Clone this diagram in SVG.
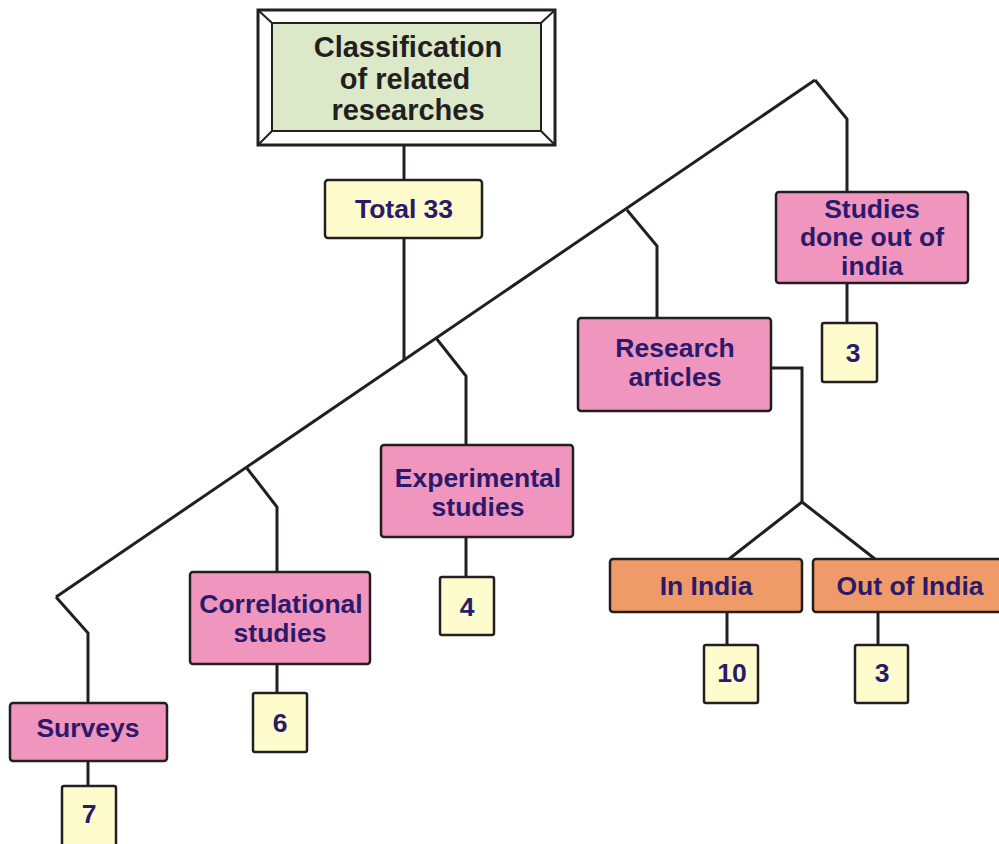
<svg xmlns="http://www.w3.org/2000/svg" width="999" height="844" viewBox="0 0 999 844">
  <style>
    .box { stroke: #231f20; stroke-width: 2.5; }
    .pink { fill: #f095bd; }
    .yellow { fill: #fefccc; }
    .orange { fill: #ef9a69; }
    .label { font-family: "Liberation Sans", Arial, sans-serif; font-weight: bold; font-size: 26.5px; fill: #2b1a6b; text-anchor: middle; }
    .title { font-family: "Liberation Sans", Arial, sans-serif; font-weight: bold; font-size: 29px; fill: #231f20; text-anchor: middle; }
    .wire { fill: none; stroke: #231f20; stroke-width: 3; stroke-linejoin: miter; }
  </style>

  <!-- connectors -->
  <g id="connectors" class="wire">
    <path d="M404 145 V180"/>
    <path d="M404 238 V360"/>
    <path d="M56 597 L815 80"/>
    <path d="M56 597 L88 633 V703"/>
    <path d="M246 467 L277 507 V572"/>
    <path d="M436 338 L466 376 V445"/>
    <path d="M627 210 L657 246 V318"/>
    <path d="M815 80 L847 119 V192"/>
    <path d="M88 761 V786"/>
    <path d="M277 664 V693"/>
    <path d="M466 537 V577"/>
    <path d="M847 283 V323"/>
    <path d="M771 368 H802 V502"/>
    <path d="M729 559 L802 502 L875 559"/>
    <path d="M727 612 V645"/>
    <path d="M878 612 V645"/>
  </g>

  <!-- title -->
  <g id="title">
    <rect x="258" y="10" width="297" height="135" fill="#ffffff" stroke="#231f20" stroke-width="3"/>
    <rect x="272" y="23" width="269" height="108" fill="#dce9c8" stroke="#231f20" stroke-width="2"/>
    <path d="M258 10 L272 23 M555 10 L541 23 M258 145 L272 131 M555 145 L541 131" stroke="#231f20" stroke-width="2" fill="none"/>
    <text class="title" x="408" y="57">Classification</text>
    <text class="title" x="405" y="89">of related</text>
    <text class="title" x="408" y="120">researches</text>
  </g>

  <g id="total">
    <rect class="box yellow" x="325" y="180" width="157" height="58" rx="3"/>
    <text class="label" x="404" y="218">Total 33</text>
  </g>

  <g id="surveys">
    <rect class="box pink" x="10" y="703" width="157" height="58" rx="3"/>
    <text class="label" x="88" y="737">Surveys</text>
  </g>
  <g id="surveys-count">
    <rect class="box yellow" x="62" y="786" width="54" height="60" rx="2"/>
    <text class="label" x="89" y="823">7</text>
  </g>

  <g id="correlational">
    <rect class="box pink" x="190" y="572" width="180" height="92" rx="3"/>
    <text class="label" x="281" y="613">Correlational</text>
    <text class="label" x="280" y="642">studies</text>
  </g>
  <g id="correlational-count">
    <rect class="box yellow" x="253" y="693" width="54" height="59" rx="2"/>
    <text class="label" x="280" y="732">6</text>
  </g>

  <g id="experimental">
    <rect class="box pink" x="381" y="445" width="192" height="92" rx="3"/>
    <text class="label" x="478" y="487">Experimental</text>
    <text class="label" x="478" y="516">studies</text>
  </g>
  <g id="experimental-count">
    <rect class="box yellow" x="440" y="577" width="54" height="58" rx="2"/>
    <text class="label" x="467" y="616">4</text>
  </g>

  <g id="research-articles">
    <rect class="box pink" x="578" y="318" width="193" height="93" rx="3"/>
    <text class="label" x="675" y="357">Research</text>
    <text class="label" x="675" y="386">articles</text>
  </g>

  <g id="in-india">
    <rect class="box orange" x="610" y="559" width="192" height="53" rx="3"/>
    <text class="label" x="706" y="595">In India</text>
  </g>
  <g id="in-india-count">
    <rect class="box yellow" x="704" y="645" width="54" height="58" rx="2"/>
    <text class="label" x="732" y="682">10</text>
  </g>

  <g id="out-of-india">
    <rect class="box orange" x="813" y="559" width="192" height="53" rx="3"/>
    <text class="label" x="910" y="595">Out of India</text>
  </g>
  <g id="out-of-india-count">
    <rect class="box yellow" x="855" y="645" width="53" height="58" rx="2"/>
    <text class="label" x="882" y="682">3</text>
  </g>

  <g id="studies-abroad">
    <rect class="box pink" x="776" y="192" width="192" height="91" rx="3"/>
    <text class="label" x="872" y="218">Studies</text>
    <text class="label" x="872" y="246">done out of</text>
    <text class="label" x="872" y="275">india</text>
  </g>
  <g id="studies-abroad-count">
    <rect class="box yellow" x="822" y="323" width="55" height="59" rx="2"/>
    <text class="label" x="853" y="362">3</text>
  </g>
</svg>
